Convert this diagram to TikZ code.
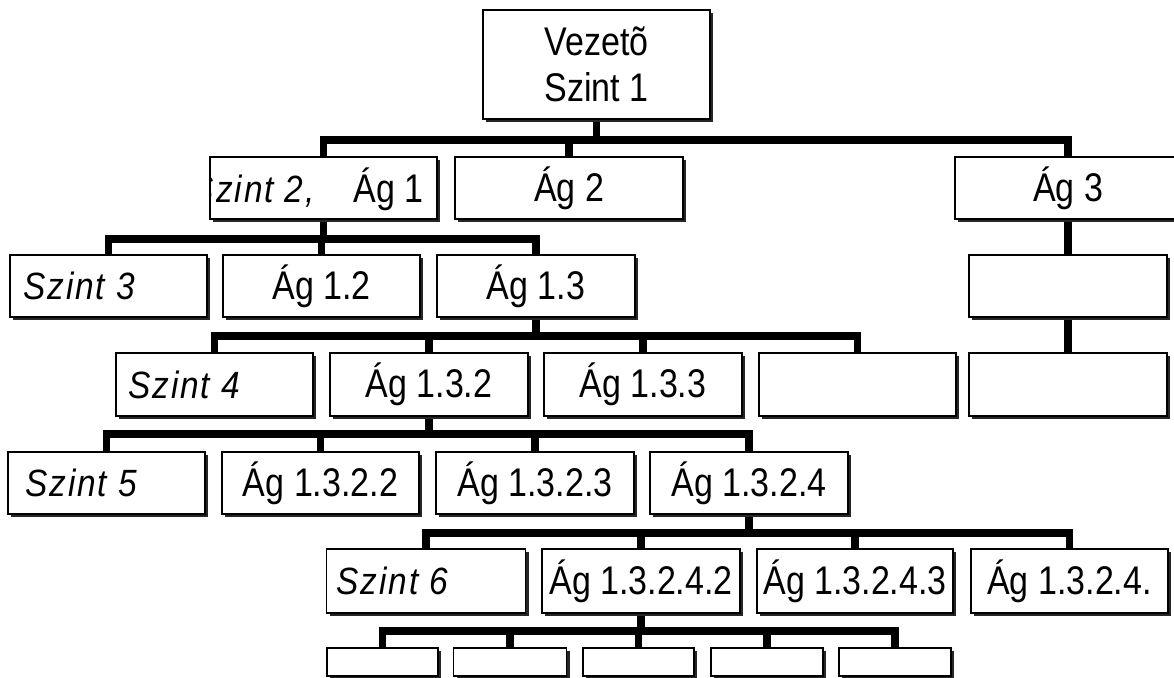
\documentclass[tikz,border=0pt]{standalone}
\usepackage{fontspec}
\setmainfont[FakeStretch=0.85]{Liberation Sans}
\newfontfamily\szf[FakeStretch=0.88,LetterSpace=5]{Liberation Sans}
\usetikzlibrary{shadows}
\pgfdeclarelayer{bg}
\pgfsetlayers{bg,main}
\tikzset{
  box/.style={draw=black, line width=1.2pt, fill=white, inner sep=0pt, outer sep=0pt,
    general shadow={shadow xshift=3pt, shadow yshift=-3pt, fill=black!85},
    font=\fontsize{40}{46}\selectfont, align=center},
  conn/.style={line width=7.5pt, line cap=rect, draw=black},
  szt/.style={font=\fontsize{38}{46}\selectfont\szf\itshape, inner sep=0pt, anchor=west},
}
\begin{document}
\begin{tikzpicture}[x=1pt,y=-1pt]
\useasboundingbox (0,0) rectangle (1174,677);
\begin{pgfonlayer}{bg}
\fill[white] (0,0) rectangle (1174,677);
\end{pgfonlayer}
% bus levels
\coordinate (y1) at (0,140);
\coordinate (y2) at (0,239);
\coordinate (y3) at (0,336);
\coordinate (y4) at (0,434);
\coordinate (y5) at (0,533);
\coordinate (y6) at (0,631);

% level 1
\node[box, minimum width=227, minimum height=109] (V) at (596.5,64.5) {Vezetõ\\Szint 1};
% level 2
\node[box, minimum width=227, minimum height=62] (A1) at (323.5,188) {};
\node[box, minimum width=228, minimum height=62] (A2) at (569,188) {Ág 2};
\node[box, minimum width=226, minimum height=62] (A3) at (1068,188) {Ág 3};
\begin{scope}
\clip (A1.south west) rectangle (A1.north east);
\node[font=\fontsize{38}{46}\selectfont\szf\itshape, inner sep=0pt, anchor=base east] at (315,202) {Szint 2,};
\node[font=\fontsize{40}{46}\selectfont, inner sep=0pt, anchor=base east] at (424,202) {Ág 1};
\end{scope}
% level 3
\node[box, minimum width=197, minimum height=62] (S3) at (108.5,286) {};
\node[szt] at ([xshift=13pt]S3.west) {Szint 3};
\node[box, minimum width=197, minimum height=62] (A12) at (321.5,286) {Ág 1.2};
\node[box, minimum width=198, minimum height=62] (A13) at (536,286) {Ág 1.3};
\node[box, minimum width=198, minimum height=62] (R1) at (1068,286) {};
% level 4
\node[box, minimum width=197, minimum height=63] (S4) at (214.5,384.5) {};
\node[szt] at ([xshift=12pt]S4.west) {Szint 4};
\node[box, minimum width=198, minimum height=63] (A132) at (429,384.5) {Ág 1.3.2};
\node[box, minimum width=198, minimum height=63] (A133) at (643,384.5) {Ág 1.3.3};
\node[box, minimum width=197, minimum height=63] (E4) at (857.5,384.5) {};
\node[box, minimum width=198, minimum height=63] (R2) at (1068,384.5) {};
% level 5
\node[box, minimum width=197, minimum height=62] (S5) at (106.5,483) {};
\node[szt] at ([xshift=17pt]S5.west) {Szint 5};
\node[box, minimum width=197, minimum height=62] (A1322) at (320.5,483) {Ág 1.3.2.2};
\node[box, minimum width=198, minimum height=62] (A1323) at (535,483) {Ág 1.3.2.3};
\node[box, minimum width=198, minimum height=62] (A1324) at (749,483) {Ág 1.3.2.4};
% level 6
\node[box, minimum width=199, minimum height=64] (S6) at (426,581) {};
\node[szt] at ([xshift=10pt]S6.west) {Szint 6};
\node[box, minimum width=198, minimum height=64] (A13242) at (641,581) {Ág 1.3.2.4.2};
\node[box, minimum width=196, minimum height=64] (A13243) at (855,581) {Ág 1.3.2.4.3};
\node[box, minimum width=197, minimum height=64] (A13244) at (1069.5,581) {Ág 1.3.2.4.};
% level 7
\node[box, minimum width=111, minimum height=28] (B1) at (382.5,662) {};
\node[box, minimum width=113, minimum height=28] (B2) at (510,662) {};
\node[box, minimum width=111, minimum height=28] (B3) at (638.5,662) {};
\node[box, minimum width=112, minimum height=28] (B4) at (767,662) {};
\node[box, minimum width=112, minimum height=28] (B5) at (895,662) {};

\begin{pgfonlayer}{bg}
% 1 -> 2
\draw[conn] (V.south) -- (V.south |- y1);
\draw[conn] (A1.north |- y1) -- (A3.north |- y1);
\foreach \n in {A1,A2,A3} \draw[conn] (\n.north) -- (\n.north |- y1);
% A1 -> 3
\draw[conn] (A1.south) -- (A1.south |- y2);
\draw[conn] (S3.north |- y2) -- (A13.north |- y2);
\foreach \n in {S3,A12,A13} \draw[conn] (\n.north) -- (\n.north |- y2);
% A3 column
\draw[conn] (A3.south) -- (R1.north);
\draw[conn] (R1.south) -- (R2.north);
% A13 -> 4
\draw[conn] (A13.south) -- (A13.south |- y3);
\draw[conn] (S4.north |- y3) -- (E4.north |- y3);
\foreach \n in {S4,A132,A133,E4} \draw[conn] (\n.north) -- (\n.north |- y3);
% A132 -> 5
\draw[conn] (A132.south) -- (A132.south |- y4);
\draw[conn] (S5.north |- y4) -- (A1324.north |- y4);
\foreach \n in {S5,A1322,A1323,A1324} \draw[conn] (\n.north) -- (\n.north |- y4);
% A1324 -> 6
\draw[conn] (A1324.south) -- (A1324.south |- y5);
\draw[conn] (S6.north |- y5) -- (A13244.north |- y5);
\foreach \n in {S6,A13242,A13243,A13244} \draw[conn] (\n.north) -- (\n.north |- y5);
% A13242 -> 7
\draw[conn] (A13242.south) -- (A13242.south |- y6);
\draw[conn] (B1.north |- y6) -- (B5.north |- y6);
\foreach \n in {B1,B2,B3,B4,B5} \draw[conn] (\n.north) -- (\n.north |- y6);
\end{pgfonlayer}
\end{tikzpicture}
\end{document}
